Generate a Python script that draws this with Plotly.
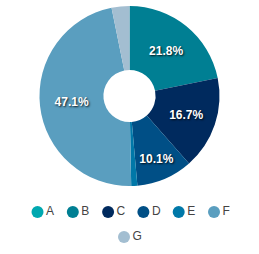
import plotly.graph_objects as go

categories = ["A", "B", "C", "D", "E", "F", "G"]
values = [0.0, 21.8, 16.7, 10.1, 1.1, 47.1, 3.2]
colors = ["#00a8b0", "#007f93", "#002a5e", "#004f86", "#0078a8", "#5a9ebf", "#a3bed1"]

W, H = 259, 254
# only label the larger slices
labels_tpl = ["%{percent:.1%}" if v >= 5 else "" for v in values]

fig = go.Figure()
fig.add_trace(go.Pie(
    labels=categories, values=values, sort=False, direction="clockwise", rotation=0,
    hole=0.29, marker=dict(colors=colors, line=dict(width=0)),
    texttemplate=labels_tpl, textposition="inside", insidetextorientation="horizontal",
    textfont=dict(family="Liberation Sans, Arial, sans-serif", size=12, color="white",
                  weight="bold", shadow="1px 1px 2px rgba(0,0,0,0.85)"),
    domain=dict(x=[0, 1], y=[(H - 186) / H, (H - 6) / H]),
    showlegend=False, hoverinfo="label+percent",
))

# custom legend with circle markers
row1 = categories[:6]
lx = [37.5 + i * 35.3 for i in range(len(row1))] + [124]
ly = [212] * len(row1) + [237]
fig.add_trace(go.Scatter(
    x=lx, y=ly, mode="markers+text", text=categories, textposition="middle right",
    marker=dict(size=12, color=colors, symbol="circle"),
    textfont=dict(family="Liberation Sans, Arial, sans-serif", size=12, color="#444"),
    showlegend=False, hoverinfo="skip", cliponaxis=False,
))

fig.update_layout(
    width=W, height=H, margin=dict(l=0, r=0, t=0, b=0),
    paper_bgcolor="white", plot_bgcolor="white",
    xaxis=dict(range=[0, W], visible=False, fixedrange=True),
    yaxis=dict(range=[H, 0], visible=False, fixedrange=True),
    showlegend=False,
)
fig.write_html("out.html")
